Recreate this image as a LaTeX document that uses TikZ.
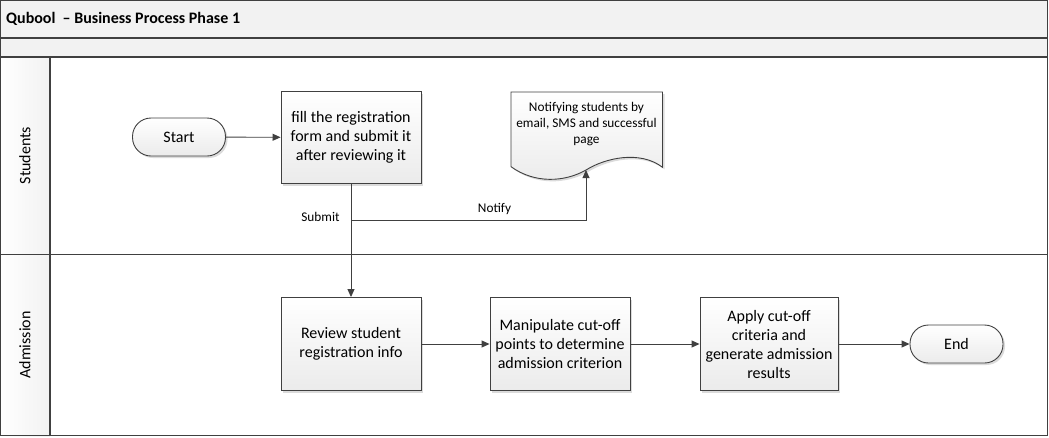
\documentclass[tikz,border=0pt]{standalone}
\usepackage{fontspec}
\setmainfont{Carlito}
\usetikzlibrary{arrows.meta,shadows}
\definecolor{lineclr}{HTML}{404040}
\definecolor{barclr}{HTML}{F2F2F2}
\definecolor{boxbot}{HTML}{EBEBEB}

\begin{document}
\begin{tikzpicture}[x=1pt,y=-1pt,
	frame/.style={draw=lineclr,line width=1.2pt},
	proc/.style={draw=lineclr,line width=0.9pt,top color=white,bottom color=boxbot,
		minimum width=140pt,minimum height=93pt,align=center,inner sep=2pt,
		font=\fontsize{16}{19}\selectfont,
		drop shadow={shadow xshift=2pt,shadow yshift=-2pt,fill=black!14,opacity=1}},
	term/.style={proc,minimum width=93pt,minimum height=38pt,rounded corners=18.5pt},
	docshape/.style={draw=lineclr,line width=0.9pt,top color=white,bottom color=boxbot,
		drop shadow={shadow xshift=2pt,shadow yshift=-2pt,fill=black!14,opacity=1}},
	lanetxt/.style={rotate=90,font=\fontsize{16}{19}\selectfont},
	smalltxt/.style={font=\fontsize{13.3}{15.8}\selectfont,align=center,inner sep=1pt},
	arr/.style={draw=lineclr,line width=0.9pt,-{Triangle[length=8pt,width=7pt]}}]
	
	\useasboundingbox (0,0) rectangle (1049,437);
	
	\fill[barclr] (0,0) rectangle (1048,57);
	\shade[left color=white,right color=barclr] (0,57) rectangle (50,436);
	\draw[frame] (0.6,0.6) rectangle (1047.4,435.6);
	\draw[frame] (0,38) -- (1048,38);
	\draw[frame] (0,57) -- (1048,57);
	\draw[frame] (0,254.5) -- (1048,254.5);
	\draw[frame] (50,57) -- (50,435.6);
	
	\node[anchor=west,inner sep=0pt,font=\bfseries\fontsize{16}{18}\selectfont] (title) at (6,19) {Qubool\ \ – Business Process Phase 1};
	\node[lanetxt] (students) at (25,155.5) {Students};
	\node[lanetxt] (admission) at (25,345) {Admission};
	
	\node[term] (start) at (179,137) {Start};
	\node[proc,minimum height=92pt] (fill) at (351,137.5) {fill the registration\\form and submit it\\after reviewing it};
	
	\draw[docshape] (511,92) -- (662.5,92) -- (662.5,167.3)
	.. controls (640,150) and (605,158) .. (586,170)
	.. controls (565,182) and (535,184) .. (511,166.7) -- cycle;
	\node[smalltxt] (notify) at (586.5,124) {Notifying students by\\email, SMS and successful\\page};
	\coordinate (docbot) at (586,170);
	
	\node[proc] (review) at (351,344) {Review student\\registration info};
	\node[proc] (manip) at (560,344) {Manipulate cut-off\\points to determine\\admission criterion};
	\node[proc,minimum width=138pt] (apply) at (769,344) {Apply cut-off\\criteria and\\generate admission\\results};
	\node[term] (end) at (956.5,344) {End};
	
	\draw[arr] (start) -- (fill);
	\draw[arr] (fill) -- (review);
	\coordinate (branch) at (351,220);
	\draw[arr] (branch) -| (docbot);
	\node[smalltxt] (submit) at (320.5,216.5) {Submit};
	\node[smalltxt] (notifylbl) at (494.5,208.5) {Notify};
	
	\draw[arr] (review) -- (manip);
	\draw[arr] (manip) -- (apply);
	\draw[arr] (apply) -- (end);
	
\end{tikzpicture}
\end{document}
